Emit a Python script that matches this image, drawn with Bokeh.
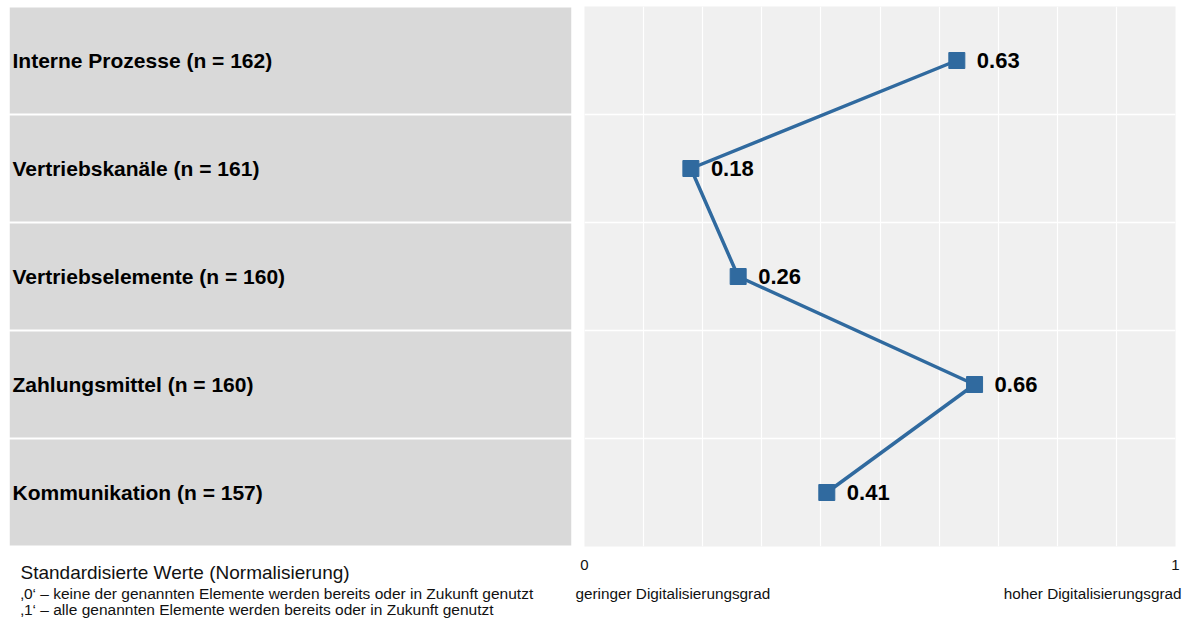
from bokeh.plotting import figure
from bokeh.layouts import row, column
from bokeh.models import Range1d, FixedTicker, ColumnDataSource
from bokeh.core.properties import value
from bokeh.embed import file_html
from bokeh.resources import INLINE

# Bereiche und normalisierte Digitalisierungswerte (oben nach unten)
categories = [
    "Interne Prozesse (n = 162)",
    "Vertriebskanäle  (n = 161)",
    "Vertriebselemente (n = 160)",
    "Zahlungsmittel (n = 160)",
    " Kommunikation (n = 157)",
]
scores = [0.63, 0.18, 0.26, 0.66, 0.41]
score_labels = ["0.63", "0.18", "0.26", "0.66", "0.41"]
x_ticks = [0, 1]
x_tick_labels = ["0", "1"]
scale_captions = ["geringer Digitalisierungsgrad", "hoher Digitalisierungsgrad"]
notes = [
    "Standardisierte Werte (Normalisierung)",
    "‚0‘ – keine der genannten Elemente werden bereits oder in Zukunft  genutzt",
    "‚1‘ – alle genannten Elemente werden bereits oder in Zukunft genutzt",
]

FONT = "Liberation Sans"
BLUE = "#306a9f"
TXT = "#111111"

n = len(categories)
ypos = [n - i for i in range(n)]
y_range = Range1d(0.5, n + 0.5)

src = ColumnDataSource(dict(cat=categories, y=ypos, x=scores, lab=score_labels,
                            x0=[0] * n, x1=[1] * n,
                            top=[v + 0.49 for v in ypos], bottom=[v - 0.49 for v in ypos]))


def bare(fig):
    fig.xaxis.visible = False
    fig.yaxis.visible = False
    fig.xgrid.visible = False
    fig.ygrid.visible = False
    fig.outline_line_color = None
    fig.background_fill_color = "white"
    fig.border_fill_color = "white"


# Linke Spalte mit den Bereichsbezeichnungen
left = figure(width=580, height=556, x_range=Range1d(0, 1), y_range=y_range,
              output_backend="svg", toolbar_location=None,
              min_border_left=9, min_border_right=9, min_border_top=6, min_border_bottom=10)
bare(left)
left.quad(left="x0", right="x1", top="top", bottom="bottom", source=src,
          fill_color="#d9d9d9", line_color=None)
left.text(x="x0", y="y", text="cat", source=src, x_offset=3,
          text_baseline="middle", text_align="left",
          text_font=value(FONT), text_font_style="bold", text_font_size="21px",
          text_color="black")

# Rechte Seite: Verlauf der Digitalisierungswerte
p = figure(width=609, height=556, x_range=Range1d(0, 1), y_range=y_range,
           output_backend="svg", toolbar_location=None,
           min_border_left=4, min_border_right=14, min_border_top=6, min_border_bottom=10)
p.background_fill_color = "#f0f0f0"
p.border_fill_color = "white"
p.outline_line_color = None
p.xaxis.visible = False
p.yaxis.visible = False

p.xgrid.ticker = FixedTicker(ticks=[i / 10 for i in range(1, 10)])
p.xgrid.grid_line_color = "white"
p.xgrid.grid_line_width = 1.2
p.ygrid.ticker = FixedTicker(ticks=[k + 0.5 for k in range(1, n)])
p.ygrid.grid_line_color = "white"
p.ygrid.grid_line_width = 1.5

p.line(x="x", y="y", source=src, line_color=BLUE, line_width=3.5)
p.scatter(x="x", y="y", source=src, marker="square", size=16,
          fill_color=BLUE, line_color=BLUE)
p.text(x="x", y="y", text="lab", source=src, x_offset=20,
       text_baseline="middle", text_align="left",
       text_font=value(FONT), text_font_style="bold", text_font_size="22px",
       text_color="black")

# Fußzeile links: Erläuterung der Normalisierung (y in Pixeln von unten)
foot_left = figure(width=571, height=63, x_range=Range1d(0, 571), y_range=Range1d(0, 63),
                   output_backend="svg", toolbar_location=None,
                   min_border_left=0, min_border_right=0, min_border_top=0, min_border_bottom=0)
bare(foot_left)
foot_left.text(x=[20, 20, 20], y=[47, 26, 10], text=notes,
               text_font=value(FONT), text_font_size=["19px", "15.5px", "15.5px"],
               text_baseline="middle", text_align="left", text_color=TXT)

# Fußzeile rechts: Skalenenden, an der x-Skala des Diagramms ausgerichtet
foot_right = figure(width=618, height=63, x_range=Range1d(-13 / 591, 605 / 591),
                    y_range=Range1d(0, 63),
                    output_backend="svg", toolbar_location=None,
                    min_border_left=0, min_border_right=0, min_border_top=0, min_border_bottom=0)
bare(foot_right)
foot_right.text(x=x_ticks, y=[55, 55], text=x_tick_labels,
                text_font=value(FONT), text_font_size="15px",
                text_baseline="middle", text_align="center", text_color=TXT)
foot_right.text(x=x_ticks, y=[26, 26], text=scale_captions, x_offset=[-9, 6],
                text_font=value(FONT), text_font_size="15.3px",
                text_baseline="middle", text_align=["left", "right"], text_color=TXT)

layout = column(row(left, p), row(foot_left, foot_right))
open("out.html", "w").write(file_html(layout, INLINE))
